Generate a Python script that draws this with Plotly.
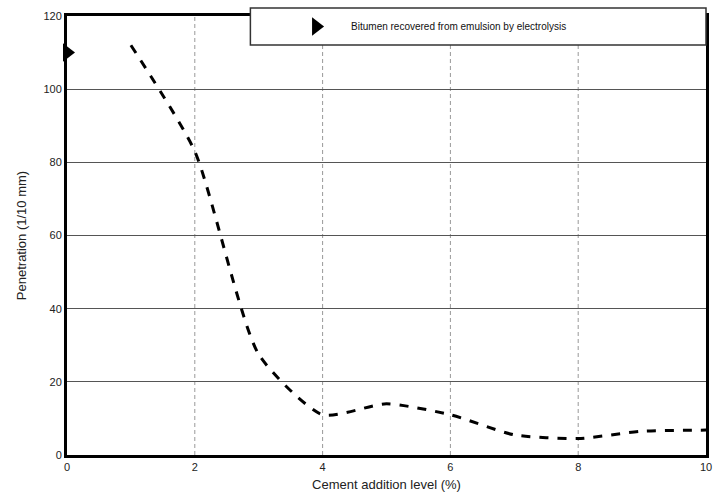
import plotly.graph_objects as go

cement = [1, 2, 3, 4, 5, 6, 7, 8, 9, 10]
penetration = [112, 83, 27.5, 11, 14, 11, 5.5, 4.5, 6.5, 6.8]
start_x = [0]
start_y = [110]
x_ticks = [0, 2, 4, 6, 8, 10]
y_ticks = [0, 20, 40, 60, 80, 100, 120]

fig = go.Figure()
fig.add_trace(go.Scatter(
    x=cement, y=penetration, mode="lines", line=dict(color="black", width=3, dash="dash", shape="spline", smoothing=0.6),
    showlegend=False, hoverinfo="skip"))
fig.add_trace(go.Scatter(
    x=start_x, y=start_y, mode="markers", cliponaxis=False,
    marker=dict(symbol="triangle-right", size=16, color="black"),
    name="Bitumen recovered from emulsion by electrolysis", showlegend=True))

for xv in x_ticks[1:-1]:
    fig.add_shape(type="line", x0=xv, x1=xv, y0=0, y1=120, xref="x", yref="y",
                  line=dict(color="#999", width=1, dash="4px,3px"), layer="below")

# legend frame
fig.add_shape(type="rect", xref="paper", yref="paper", x0=0.287, x1=1.0, y0=0.934, y1=1.018,
              fillcolor="white", line=dict(color="#333", width=1.5), layer="above")

fig.update_layout(
    width=719, height=502,
    margin=dict(l=67, r=7, t=16, b=47),
    paper_bgcolor="white", plot_bgcolor="white",
    font=dict(family="Liberation Sans, Arial", color="#222", size=11),
    legend=dict(x=0.335, y=0.976, xanchor="left", yanchor="middle", bgcolor="rgba(0,0,0,0)",
                borderwidth=0, font=dict(size=10, color="#111"), itemwidth=60),
    xaxis=dict(range=[0, 10], tickvals=x_ticks, showgrid=False, zeroline=False,
               showline=True, linecolor="black", linewidth=3, mirror=True, ticks="",
               title=dict(text="Cement addition level (%)", font=dict(size=13), standoff=8)),
    yaxis=dict(range=[0, 120], tickvals=y_ticks, showgrid=True, gridcolor="#555", gridwidth=1.3,
               zeroline=False, showline=True, linecolor="black", linewidth=3, mirror=True, ticks="",
               title=dict(text="Penetration (1/10 mm)", font=dict(size=13), standoff=14)),
)
fig.write_html("out.html")
